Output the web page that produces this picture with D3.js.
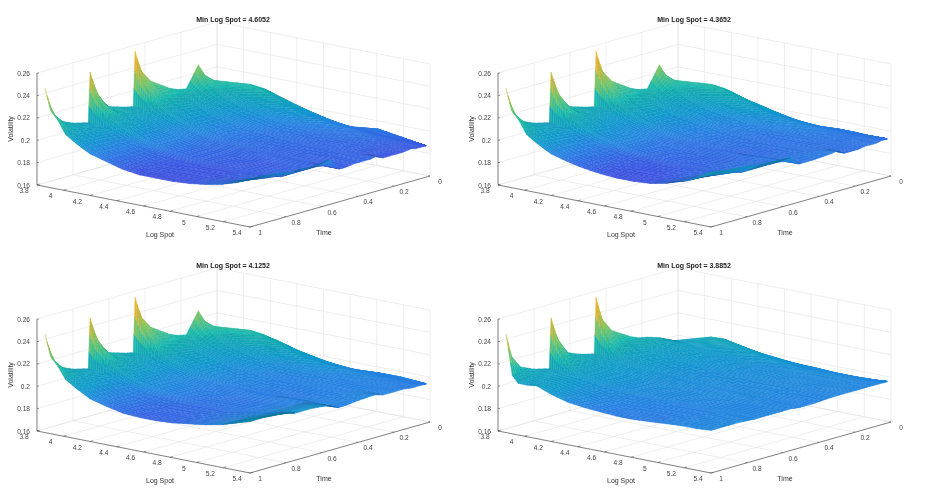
<!DOCTYPE html>
<html lang="en">
<head>
<meta charset="utf-8">
<script src="https://d3js.org/d3.v7.min.js"></script>
<title>Local volatility surfaces</title>
</head>
<body style="margin:0;background:#fff;">
<script>
var titles = ["Min Log Spot = 4.6052", "Min Log Spot = 4.3652", "Min Log Spot = 4.1252", "Min Log Spot = 3.8852"];
var logSpotTicks = [3.8, 4, 4.2, 4.4, 4.6, 4.8, 5, 5.2, 5.4];
var timeTicks = [0, 0.2, 0.4, 0.6, 0.8, 1];
var volTicks = [0.16, 0.18, 0.2, 0.22, 0.24, 0.26];

// mesh rows: time, and the lowest log spot the surface reaches at that time
var times = [1, .97, .92, .85, .76, .75, .72, .66, .6, .56, .51, .5, .47, .42, .33, .3, .26, .2, .18, .15, .1, .08, .05, .04, .03, .025, .02];
var rowMinSpot = [3.86, 3.86, 3.86, 3.86, 3.86, 3.86, 3.86, 3.86, 3.86, 3.86, 3.86, 3.86, 3.86, 3.87, 3.89, 3.91, 3.92, 3.93, 3.945, 3.97, 4.18, 4.25, 4.49, 4.78, 5.04, 5.21, 5.38];
// mesh columns: share of the way from rowMinSpot to the top log spot
var columnShare = [0, .03, .06, .1, .15, .22, .3, .38, .46, .54, .62, .7, .78, .86, .93, 1];

// volatility x 1000, one row per time
var vol1 = [
[248,228,222,210,204,197,193,189,187,187,187,188,190,193,197,203],
[227,222,216,208,203,197,192,189,187,187,187,188,190,193,197,202],
[215,213,210,206,202,196,192,189,188,187,187,188,190,192,196,202],
[210,209,208,205,201,196,192,190,188,188,188,188,189,191,194,201],
[206,206,205,203,200,196,193,190,189,188,188,188,189,190,192,198],
[251,232,225,213,207,201,196,193,191,190,189,189,189,190,191,198],
[233,225,221,212,206,200,196,193,191,190,189,189,189,190,191,199],
[216,214,212,208,204,199,196,193,191,190,189,189,189,190,191,198],
[213,212,210,207,203,199,196,193,191,190,190,189,189,190,191,199],
[211,210,209,206,203,199,196,193,192,191,190,190,190,190,191,200],
[209,209,208,205,202,198,196,193,192,191,190,190,190,190,190,190],
[258,238,228,216,209,203,198,195,193,192,191,190,190,190,189,189],
[240,230,224,214,208,202,198,195,193,192,191,190,190,190,189,189],
[228,222,218,211,206,201,198,195,193,192,191,191,190,190,190,190],
[218,216,214,209,206,201,198,195,194,193,192,191,191,190,190,190],
[216,215,213,209,205,201,198,196,194,193,192,191,191,190,190,191],
[215,214,212,209,205,201,199,196,194,193,192,191,191,190,189,188],
[234,224,218,212,208,204,201,198,196,195,193,192,191,190,189,188],
[225,220,216,212,208,204,201,198,196,195,193,192,191,190,189,188],
[219,218,216,212,209,205,202,199,197,195,194,193,192,190,189,188],
[218,217,216,214,211,208,204,201,198,196,194,193,192,190,189,189],
[215,214,213,211,209,206,203,200,198,196,194,193,191,190,189,188],
[197,197,197,197,196,196,195,194,193,192,191,191,190,190,189,188],
[192,192,192,192,192,192,192,192,191,191,191,190,190,189,189,188],
[195,195,195,194,194,194,193,193,192,192,191,191,190,189,189,188],
[191,191,191,190,190,190,190,190,190,189,189,189,189,188,188,188],
[188,188,188,188,188,188,188,188,188,188,188,188,188,188,188,188]
];
var vol2 = [
[248,228,222,210,204,197,193,190,188,187,187,188,191,196,202,209],
[227,222,216,208,203,197,193,190,188,187,187,188,191,195,201,208],
[215,213,210,206,202,197,193,190,188,187,187,188,191,195,200,207],
[210,209,208,205,201,197,193,190,189,188,188,189,191,194,198,206],
[206,206,205,203,200,196,193,191,189,189,189,190,191,193,196,204],
[251,232,225,213,207,201,197,194,192,190,190,190,191,193,195,203],
[233,225,221,212,206,200,197,194,192,191,190,190,191,193,195,203],
[216,214,212,208,204,200,197,194,192,191,191,191,192,193,195,203],
[213,212,210,207,203,199,197,194,193,192,191,191,192,193,195,202],
[211,210,209,206,203,199,197,194,193,192,192,192,192,193,195,202],
[209,209,208,205,202,199,196,194,193,192,192,192,193,194,194,194],
[258,238,228,216,209,203,199,196,194,193,192,192,192,193,193,194],
[240,230,224,214,208,202,199,196,194,193,192,192,192,193,193,194],
[228,222,218,211,206,202,199,196,195,193,193,192,192,193,194,194],
[218,216,214,209,206,202,199,197,195,194,193,193,193,193,194,195],
[216,215,213,209,205,202,199,197,195,194,193,193,193,193,194,196],
[215,214,212,209,205,202,199,197,196,194,193,193,193,193,193,192],
[234,224,218,212,208,204,201,199,197,196,195,194,194,193,193,192],
[225,220,216,212,208,205,202,199,198,196,195,194,194,193,193,192],
[219,218,216,212,209,206,203,200,198,197,196,195,194,193,193,193],
[218,217,216,214,211,208,205,202,200,198,196,195,194,194,194,193],
[215,214,213,211,209,207,204,201,199,198,196,195,194,194,193,193],
[200,200,200,199,199,198,197,196,196,195,195,194,194,194,194,194],
[194,194,194,194,194,194,194,194,194,194,194,194,194,194,194,194],
[195,195,195,195,195,195,195,195,194,194,194,194,194,194,194,194],
[194,194,194,194,194,194,194,194,194,194,194,194,194,194,194,194],
[194,194,194,194,194,194,194,194,194,194,194,194,194,194,194,194]
];
var vol3 = [
[248,228,222,211,205,198,194,191,190,190,191,193,195,198,202,206],
[227,222,216,209,204,198,194,191,190,190,191,193,195,198,202,206],
[215,213,210,206,203,197,194,192,191,191,191,193,195,198,202,206],
[210,209,208,205,202,197,194,192,191,191,192,193,195,198,201,205],
[206,206,205,203,200,197,195,193,192,192,192,193,195,197,200,203],
[251,232,225,213,207,202,198,195,194,193,193,194,195,197,200,202],
[233,225,221,212,206,201,198,196,194,193,193,194,195,197,200,202],
[216,214,212,208,204,200,198,196,194,194,194,194,195,197,200,202],
[213,212,210,207,204,200,198,196,195,194,194,194,195,197,200,201],
[211,210,209,206,203,200,198,196,195,195,195,195,196,197,199,200],
[209,209,208,205,203,200,198,196,195,195,195,195,196,196,196,196],
[258,238,228,216,209,204,200,198,196,195,195,195,195,196,196,196],
[240,230,224,214,208,203,200,198,196,195,195,195,195,196,196,196],
[228,222,218,211,206,203,200,198,197,196,195,195,195,196,196,197],
[218,216,214,209,206,203,200,198,197,196,196,196,196,196,197,198],
[216,215,213,209,206,203,200,198,197,196,196,196,196,196,197,198],
[215,214,212,209,206,203,201,199,197,196,196,196,196,196,196,196],
[234,224,218,212,208,205,202,200,199,198,197,196,196,196,196,196],
[225,220,216,212,208,205,203,200,199,198,197,196,196,196,196,196],
[219,218,216,212,209,206,204,201,200,199,198,197,196,196,196,196],
[218,217,216,214,212,209,206,203,201,200,198,197,196,196,195,195],
[215,214,213,212,210,207,205,202,201,199,198,197,196,196,195,195],
[200,200,200,200,199,199,198,198,197,197,196,196,196,195,195,195],
[196,196,196,196,196,196,196,196,196,196,196,196,195,195,195,195],
[197,197,197,197,197,197,197,196,196,196,196,196,196,195,195,195],
[197,197,196,196,196,196,196,196,196,196,196,195,195,195,195,195],
[195,195,195,195,195,195,195,195,195,195,195,195,195,195,195,195]
];
var vol4 = [
[248,212,206,206,207,202,198,196,195,194,194,195,196,197,197,198],
[227,214,208,206,206,202,198,196,195,195,195,195,196,197,197,198],
[215,211,208,206,205,202,199,197,196,195,195,195,196,197,197,198],
[210,209,207,205,204,201,199,197,196,196,196,196,196,197,197,198],
[206,206,205,204,203,201,199,198,197,197,196,196,196,197,197,197],
[251,230,220,208,205,202,200,199,198,197,197,197,197,197,197,197],
[233,222,214,207,204,202,200,199,198,198,197,197,197,197,197,197],
[216,212,209,206,204,202,201,199,198,198,198,197,197,197,197,197],
[212,210,208,206,204,202,201,199,199,198,198,198,197,197,197,197],
[210,209,208,206,204,202,201,200,199,198,198,198,198,197,197,197],
[208,208,207,205,204,202,201,200,199,198,198,198,198,197,197,196],
[258,234,224,210,206,203,201,200,199,199,198,198,198,197,197,196],
[238,226,218,208,205,203,201,200,199,199,198,198,198,197,197,196],
[225,218,212,207,205,203,201,200,199,199,198,198,198,197,197,196],
[216,212,209,206,204,203,202,200,199,199,198,198,198,197,197,197],
[214,211,209,206,204,203,202,201,200,199,199,198,198,197,197,197],
[213,211,209,206,204,203,202,201,200,199,199,198,198,197,197,197],
[210,209,208,206,205,203,202,201,200,199,199,198,198,198,197,197],
[208,208,207,206,205,203,202,201,200,199,199,198,198,198,197,197],
[206,206,206,205,204,203,202,201,200,199,199,198,198,198,197,197],
[212,211,210,208,207,205,204,202,201,200,199,199,198,198,197,197],
[211,210,209,208,206,205,203,202,201,200,199,199,198,198,197,197],
[201,201,201,200,200,200,199,199,199,198,198,198,198,197,197,197],
[196,196,196,196,196,197,197,197,197,197,197,197,197,197,197,197],
[196,196,196,196,196,196,196,196,196,196,197,197,197,197,197,197],
[195,195,195,195,195,196,196,196,196,196,196,196,197,197,197,197],
[197,197,197,197,197,197,197,197,197,197,197,197,197,197,197,197]
];
var surfaces = [vol1, vol2, vol3, vol4];

// parula
var colorStops = [0, .08, .14, .22, .3, .46, .62, .78, .86, .94, 1];
var colorRange = ["#3e26a8", "#4848ec", "#3c68f4", "#2a8df2", "#12a4dc", "#14bcb4", "#78cb6e", "#d2bb3c", "#fab639", "#f5e626", "#f9fb0e"];

var width = 941, height = 492;
var panelDx = 461, panelDy = 246;
var shadeSteps = 3; // colour patches per mesh cell side

var svg = d3.select("body").append("svg")
  .attr("width", width)
  .attr("height", height)
  .style("display", "block")
  .style("filter", "blur(0.35px)")
  .style("font-family", "'Liberation Sans', Helvetica, Arial, sans-serif");

// oblique view: each data axis moves the point on both screen directions
var spotX = d3.scaleLinear().domain([3.8, 5.4]).range([0, 213]);
var spotY = d3.scaleLinear().domain([3.8, 5.4]).range([0, 42]);
var timeX = d3.scaleLinear().domain([1, 0]).range([37, 217]);
var timeY = d3.scaleLinear().domain([1, 0]).range([185, 134]);
var volY = d3.scaleLinear().domain([0.16, 0.26]).range([0, -112]);
var color = d3.scaleLinear()
  .domain(colorStops.map(function(d) { return 0.178 + d * 0.082; }))
  .range(colorRange)
  .clamp(true);

function project(spot, time, vol) {
  return [spotX(spot) + timeX(time), spotY(spot) + timeY(time) + volY(vol)];
}

function seg(g, a, b, stroke, w) {
  g.append("line")
    .attr("x1", a[0]).attr("y1", a[1])
    .attr("x2", b[0]).attr("y2", b[1])
    .attr("stroke", stroke)
    .attr("stroke-width", w);
}

function drawPanel(i) {
  var g = svg.append("g")
    .attr("transform", "translate(" + (i % 2) * panelDx + "," + Math.floor(i / 2) * panelDy + ")");
  var grid = "#e2e2e2", axis = "#555";
  var zLo = 0.16, zHi = 0.26, sLo = 3.8, sHi = 5.4;

  // walls and floor
  volTicks.forEach(function(v) {
    seg(g, project(sLo, 1, v), project(sLo, 0, v), grid, 0.6);
    seg(g, project(sLo, 0, v), project(sHi, 0, v), grid, 0.6);
  });
  timeTicks.forEach(function(t) {
    seg(g, project(sLo, t, zLo), project(sLo, t, zHi), grid, 0.6);
    seg(g, project(sLo, t, zLo), project(sHi, t, zLo), grid, 0.6);
  });
  logSpotTicks.forEach(function(s) {
    seg(g, project(s, 0, zLo), project(s, 0, zHi), grid, 0.6);
    seg(g, project(s, 1, zLo), project(s, 0, zLo), grid, 0.6);
  });

  // axes
  seg(g, project(sLo, 1, zLo), project(sLo, 1, zHi), axis, 0.7);
  seg(g, project(sLo, 1, zLo), project(sHi, 1, zLo), axis, 0.7);
  seg(g, project(sHi, 1, zLo), project(sHi, 0, zLo), axis, 0.7);
  volTicks.forEach(function(v) {
    var p = project(sLo, 1, v);
    seg(g, p, [p[0] + 2, p[1]], axis, 0.6);
    g.append("text").attr("x", p[0] - 7).attr("y", p[1] + 2.5)
      .attr("text-anchor", "end").attr("font-size", 6.6).attr("fill", "#444")
      .text(v);
  });
  logSpotTicks.forEach(function(s) {
    var p = project(s, 1, zLo);
    seg(g, p, project(s, 0.985, zLo), axis, 0.6);
    g.append("text").attr("x", p[0] - 13).attr("y", p[1] + 8)
      .attr("text-anchor", "middle").attr("font-size", 6.6).attr("fill", "#444")
      .text(s);
  });
  timeTicks.forEach(function(t) {
    var p = project(sHi, t, zLo);
    seg(g, p, project(sHi - 0.012, t, zLo), axis, 0.6);
    g.append("text").attr("x", p[0] + 10).attr("y", p[1] + 8)
      .attr("text-anchor", "middle").attr("font-size", 6.6).attr("fill", "#444")
      .text(t);
  });

  // surface, far patches first; a foreshortened cell reads darker, as the
  // mesh lines of the original pack together there
  var vols = surfaces[i];
  var patches = [];
  var spotAt = function(r, c) {
    return d3.scaleLinear().domain([0, 1]).range([rowMinSpot[r], 5.4])(columnShare[c]);
  };
  var areaOf = function(p) { return Math.abs(d3.polygonArea(p)); };
  for (var r = 0; r < times.length - 1; r++) {
    for (var c = 0; c < columnShare.length - 1; c++) {
      var corners = [[r, c], [r, c + 1], [r + 1, c + 1], [r + 1, c]].map(function(k) {
        return { s: spotAt(k[0], k[1]), t: times[k[0]], v: vols[k[0]][k[1]] / 1000 };
      });
      var real = areaOf(corners.map(function(k) { return project(k.s, k.t, k.v); }));
      var flat = areaOf(corners.map(function(k) { return project(k.s, k.t, 0.2); }));
      // the thin rows near time 0 are narrow anyway, no packing there
      var squeeze = times[r] < 0.12 ? 0 : Math.max(0, 1 - real / flat);
      // corner of a shading patch inside this cell
      var at = function(u, w) {
        var s = d3.scaleLinear().domain([0, 1]);
        var top = { s: s.range([corners[0].s, corners[1].s])(u), v: s.range([corners[0].v, corners[1].v])(u) };
        var bot = { s: s.range([corners[3].s, corners[2].s])(u), v: s.range([corners[3].v, corners[2].v])(u) };
        return {
          s: s.range([top.s, bot.s])(w),
          t: s.range([corners[0].t, corners[3].t])(w),
          v: s.range([top.v, bot.v])(w)
        };
      };
      for (var a = 0; a < shadeSteps; a++) {
        for (var b = 0; b < shadeSteps; b++) {
          var q = [at(a / shadeSteps, b / shadeSteps), at((a + 1) / shadeSteps, b / shadeSteps),
                   at((a + 1) / shadeSteps, (b + 1) / shadeSteps), at(a / shadeSteps, (b + 1) / shadeSteps)];
          var vol = d3.mean(q, function(k) { return k.v; });
          patches.push({
            points: q.map(function(k) { return project(k.s, k.t, k.v); }),
            vol: vol,
            // high, thin parts of the surface stay bright
            dark: vol > 0.215 ? 0.08 : 0.2 + 1.1 * squeeze * squeeze,
            depth: d3.mean(q, function(k) { return spotY(k.s) + timeY(k.t); })
          });
        }
      }
    }
  }
  patches.sort(function(a, b) { return a.depth - b.depth; });

  g.append("g")
    .selectAll("path")
    .data(patches)
    .enter().append("path")
    .attr("d", function(d) { return "M" + d.points.join("L") + "Z"; })
    .attr("fill", function(d) { return d3.color(color(d.vol)).darker(d.dark); })
    .attr("stroke", function(d) { return d3.color(color(d.vol)).darker(d.dark); })
    .attr("stroke-width", 0.35);

  // labels
  g.append("text").attr("x", 233).attr("y", 21.5)
    .attr("text-anchor", "middle").attr("font-size", 7).attr("font-weight", "bold").attr("fill", "#222")
    .text(titles[i]);
  g.append("text").attr("x", 160).attr("y", 237)
    .attr("text-anchor", "middle").attr("font-size", 7).attr("fill", "#333")
    .text("Log Spot");
  g.append("text").attr("x", 324).attr("y", 235)
    .attr("text-anchor", "middle").attr("font-size", 7).attr("fill", "#333")
    .text("Time");
  g.append("text").attr("transform", "translate(13,129) rotate(-90)")
    .attr("text-anchor", "middle").attr("font-size", 7).attr("fill", "#333")
    .text("Volatility");
}

titles.forEach(function(d, i) { drawPanel(i); });
</script>
</body>
</html>
